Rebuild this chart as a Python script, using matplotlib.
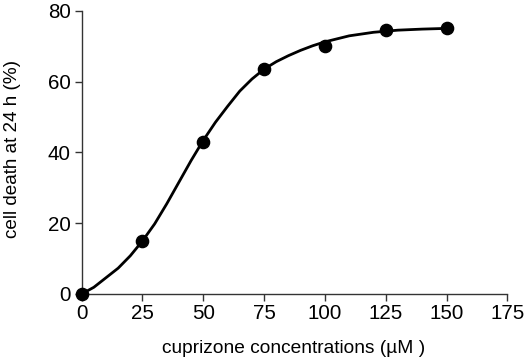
import matplotlib
matplotlib.use("Agg")
import matplotlib.pyplot as plt

# measured points
conc = [0, 25, 50, 75, 100, 125, 150]
death = [0, 15.0, 43.0, 63.6, 70.1, 74.5, 75.2]

# fitted curve
curve_x = [0, 5, 10, 15, 20, 25, 30, 35, 40, 45, 50, 55, 60, 65, 70, 75, 80,
           85, 90, 95, 100, 110, 120, 130, 140, 150]
curve_y = [0, 1.9, 4.6, 7.3, 10.8, 15.0, 19.8, 25.5, 31.6, 37.7, 43.4, 48.5,
           53.0, 57.3, 60.7, 63.5, 65.6, 67.3, 68.8, 70.1, 71.2, 72.9, 73.9,
           74.5, 74.8, 75.0]

xticks = [0, 25, 50, 75, 100, 125, 150, 175]
yticks = [0, 20, 40, 60, 80]

plt.rcParams['font.family'] = ['Liberation Sans', 'DejaVu Sans']

fig = plt.figure(figsize=(5.26, 3.61), dpi=100)
ax = fig.add_axes([0.1553, 0.1856, 0.9645 - 0.1553, 0.9704 - 0.1856])

ax.plot(curve_x, curve_y, color='black', lw=2.0, solid_capstyle='round',
        solid_joinstyle='round', zorder=2)
ax.plot(conc, death, 'o', color='black', markersize=8.8, zorder=3, clip_on=False)

ax.set_xlim(0, 175)
ax.set_ylim(0, 80)
ax.set_xticks(xticks)
ax.set_yticks(yticks)
ax.set_xticklabels([str(t) for t in xticks])
ax.set_yticklabels([str(t) for t in yticks])

for s in ['top', 'right']:
    ax.spines[s].set_visible(False)
for s in ['left', 'bottom']:
    ax.spines[s].set_color('#333333')
    ax.spines[s].set_linewidth(1.0)

ax.tick_params(axis='both', direction='out', length=5, width=1.0,
               color='#333333', labelsize=14.8, labelcolor='black')
ax.tick_params(axis='x', pad=2.5)
ax.tick_params(axis='y', pad=3)

ax.set_xlabel('cuprizone concentrations (\u00b5M )', fontsize=13.8)
ax.set_ylabel('cell death at 24 h (%)', fontsize=13.6)
ax.xaxis.set_label_coords(0.498, -0.162)
ax.yaxis.set_label_coords(-0.142, 0.512)

fig.savefig('out.png', dpi=100)
